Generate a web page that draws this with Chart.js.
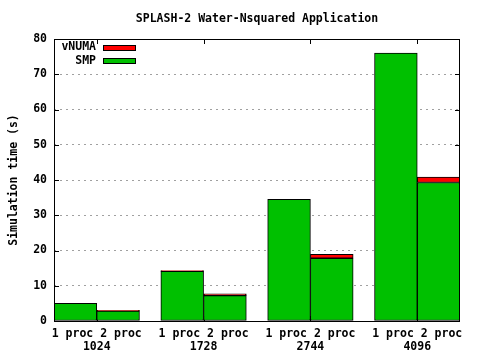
<!DOCTYPE html>
<html>
<head>
<meta charset="utf-8">
<script src="https://cdn.jsdelivr.net/npm/chart.js@4"></script>
<style>
  html, body { margin: 0; padding: 0; background: #fff; }
  canvas { display: block; }
</style>
</head>
<body>
<canvas id="chart" width="480" height="360" style="width:480px;height:360px"></canvas>
<script>
// data
const groups = ["1024", "1728", "2744", "4096"];
const procLabel = "1 proc 2 proc";
const smp1 = [5.0, 14.1, 34.5, 76.0];
const smp2 = [2.8, 7.2, 17.8, 39.3];
const vnuma1 = [0, 0.2, 0, 0];
const vnuma2 = [0.2, 0.5, 1.1, 1.5];

const titleText = "SPLASH-2 Water-Nsquared Application";
const FONT = "bold 11.5px 'DejaVu Sans Mono'";

// bar i of group g sits at g*2.5 + i (bars are 1 unit wide, half unit gap)
function points(one, two) {
  const out = [];
  groups.forEach((g, i) => {
    out.push({ x: i * 2.5, y: one[i] });
    out.push({ x: i * 2.5 + 1, y: two[i] });
  });
  return out;
}

Chart.defaults.font.family = "'DejaVu Sans Mono'";
Chart.defaults.font.size = 11.5;
Chart.defaults.font.weight = "bold";
Chart.defaults.color = "#000";

// title centred over the plot, inward ticks, frame, legend inside the plot
const gnuplotBits = {
  id: "gnuplotBits",
  beforeDatasetsDraw(chart) {
    const { ctx, chartArea: a, scales } = chart;
    ctx.save();
    ctx.strokeStyle = "#000";
    ctx.lineWidth = 1;
    ctx.beginPath();
    scales.y.ticks.forEach((t) => {
      const y = Math.round(scales.y.getPixelForValue(t.value)) + 0.5;
      ctx.moveTo(a.left, y); ctx.lineTo(a.left + 5, y);
      ctx.moveTo(a.right, y); ctx.lineTo(a.right - 5, y);
    });
    scales.x.ticks.forEach((t) => {
      const x = Math.round(scales.x.getPixelForValue(t.value)) + 0.5;
      ctx.moveTo(x, a.top); ctx.lineTo(x, a.top + 5);
      ctx.moveTo(x, a.bottom); ctx.lineTo(x, a.bottom - 5);
    });
    ctx.stroke();
    ctx.restore();
  },
  afterDraw(chart) {
    const { ctx, chartArea: a } = chart;
    ctx.save();
    ctx.strokeStyle = "#000";
    ctx.lineWidth = 1;
    ctx.strokeRect(Math.round(a.left) + 0.5, Math.round(a.top) + 0.5,
      Math.round(a.right - a.left) - 1, Math.round(a.bottom - a.top));

    ctx.font = FONT;
    ctx.fillStyle = "#000";
    ctx.textAlign = "center";
    ctx.textBaseline = "middle";
    ctx.fillText(titleText, (a.left + a.right) / 2, 19);

    // legend: vNUMA first, then SMP
    const order = [1, 0];
    order.forEach((di, row) => {
      const ds = chart.data.datasets[di];
      const y = 47.5 + row * 13.5;
      ctx.textAlign = "right";
      ctx.fillStyle = "#000";
      ctx.fillText(ds.label, 96, y);
      ctx.fillStyle = ds.backgroundColor;
      ctx.fillRect(103, Math.round(y - 3), 33, 6);
      ctx.strokeRect(103.5, Math.round(y - 3) + 0.5, 32, 5);
    });
    ctx.restore();
  }
};

new Chart(document.getElementById("chart"), {
  type: "bar",
  data: {
    datasets: [
      {
        label: "SMP",
        data: points(smp1, smp2),
        backgroundColor: "#00c000",
        borderColor: "#000",
        borderWidth: 1,
        borderSkipped: false
      },
      {
        label: "vNUMA",
        data: points(vnuma1, vnuma2),
        backgroundColor: "#ff0000",
        borderColor: "#000",
        borderWidth: 1,
        borderSkipped: false
      }
    ]
  },
  options: {
    responsive: false,
    animation: false,
    layout: { padding: { top: 39, right: 20, left: 0, bottom: 0 } },
    datasets: { bar: { barPercentage: 1, categoryPercentage: 1 } },
    plugins: {
      legend: { display: false },
      title: { display: false },
      tooltip: { enabled: false }
    },
    scales: {
      x: {
        type: "linear",
        stacked: true,
        offset: false,
        min: -0.5,
        max: 9,
        grid: { display: false, drawTicks: false, offset: false },
        border: { display: false },
        afterBuildTicks(scale) {
          scale.ticks = groups.map((g, i) => ({ value: i * 2.5 + 0.5 }));
        },
        afterFit(scale) { scale.height = 39; },
        ticks: {
          autoSkip: false,
          maxRotation: 0,
          padding: 7,
          font: { lineHeight: 1.13 },
          callback: (v, i) => [procLabel, groups[i]]
        }
      },
      y: {
        stacked: true,
        min: 0,
        max: 80,
        afterFit(scale) { scale.width = 54; },
        ticks: { stepSize: 10, padding: 7 },
        grid: {
          drawTicks: false,
          lineWidth: 1,
          color: (c) => (c.tick && (c.tick.value === 0 || c.tick.value === 80)) ? "rgba(0,0,0,0)" : "#a0a0a0"
        },
        border: { display: false, dash: [2, 4] },
        title: {
          display: true,
          text: "Simulation time (s)",
          padding: { top: 7, bottom: 0 }
        }
      }
    }
  },
  plugins: [gnuplotBits]
});
</script>
</body>
</html>
